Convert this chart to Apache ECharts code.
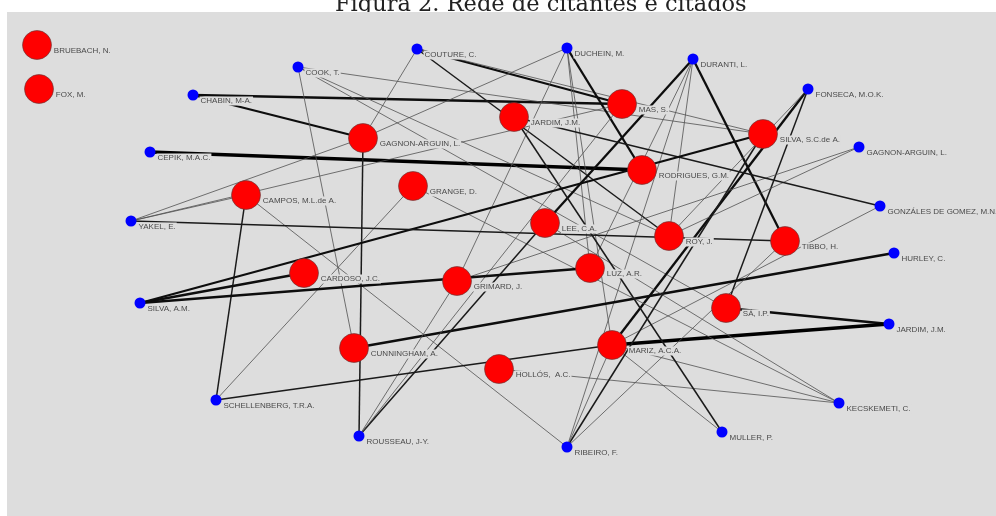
<!DOCTYPE html>
<html>
<head>
<meta charset="utf-8">
<script src="https://cdn.jsdelivr.net/npm/echarts@6/dist/echarts.min.js"></script>
<style>html,body{margin:0;padding:0;background:#fff}#c{width:996px;height:516px}</style>
</head>
<body>
<div id="c"></div>
<script>
// Node labels (authors)
const nodeNames = [
  "BRUEBACH, N.", "FOX, M.", "GAGNON-ARGUIN, L.", "JARDIM, J.M.", "MAS, S.",
  "SILVA, S.C.de A.", "RODRIGUES, G.M.", "CAMPOS, M.L.de A.", "GRANGE, D.", "LEE, C.A.",
  "ROY, J.", "TIBBO, H.", "CARDOSO, J.C.", "GRIMARD, J.", "LUZ, A.R.",
  "SÁ, I.P.", "CUNNINGHAM, A.", "MARIZ, A.C.A.", "HOLLÓS,  A.C.",
  "COUTURE, C.", "DUCHEIN, M.", "DURANTI, L.", "COOK, T.", "CHABIN, M-A.",
  "FONSECA, M.O.K.", "CEPIK, M.A.C.", "GAGNON-ARGUIN, L.", "GONZÁLES DE GOMEZ, M.N.", "YAKEL, E.",
  "HURLEY, C.", "SILVA, A.M.", "JARDIM, J.M.", "SCHELLENBERG, T.R.A.", "KECSKEMETI, C.",
  "ROUSSEAU, J-Y.", "MULLER, P.", "RIBEIRO, F."
];
// node group: 1 = citante (red), 0 = citado (blue)
const nodeGroup = [
  1,1,1,1,1,1,1,1,1,1,1,1,1,1,1,1,1,1,1,
  0,0,0,0,0,0,0,0,0,0,0,0,0,0,0,0,0,0
];
// layout coordinates (network canvas units)
const nodeX = [30,32,356,507,615,756,635,239,406,538,662,778,297,450,583,719,347,605,492,
               410,560,686,291,186,801,143,852,873,124,887,133,882,209,832,352,715,560];
const nodeY = [33,77,126,105,92,122,158,183,174,211,224,229,261,269,256,296,336,333,357,
               37,36,47,55,83,77,140,135,194,209,241,291,312,388,391,424,420,435];
// links: source index, target index, tie strength
const linkSource = [23,23,25,19,19,19,19,22,22,22,22,20,20,20,20,20,21,21,21,21,21,24,24,24,26,26,27,27,29,31,31,33,33,33,33,35,35,36,36,36,36,34,34,34,34,32,32,32,30,30,30,28,28,28,28];
const linkTarget = [2,4,6,2,10,4,5,5,10,15,16,2,13,6,17,14,9,11,10,36,14,17,10,15,13,10,17,3,16,15,17,17,18,8,9,3,17,5,7,17,11,2,9,13,4,7,8,17,12,14,5,2,7,4,11];
const linkWeight = [3,3,4,1,2,3,1,1,1,1,1,1,1,3,1,1,3,3,1,1,1,3,1,2,1,1,1,2,3,3,4,1,1,1,1,2,1,2,1,1,1,2,2,1,1,2,1,2,3,3,3,1,1,1,2];

const titleText = "Figura 2. Rede de citantes e citados";

const widthFor = [0, 0.8, 1.5, 2.3, 3.3];
const colorFor = ['#000', '#505050', '#1a1a1a', '#0d0d0d', '#000'];

const nodes = nodeNames.map((n, i) => ({
  id: 'n' + i,
  name: n,
  value: [nodeX[i], nodeY[i]],
  symbolSize: nodeGroup[i] ? 29 : 11,
  itemStyle: nodeGroup[i]
    ? { color: '#ff0000', borderColor: '#5a3a3a', borderWidth: 0.6 }
    : { color: '#0000ff', borderWidth: 0 }
}));
const links = linkSource.map((s, i) => ({
  source: s,
  target: linkTarget[i],
  lineStyle: { width: widthFor[linkWeight[i]], color: colorFor[linkWeight[i]], opacity: 1, curveness: 0 }
}));

const chart = echarts.init(document.getElementById('c'), null, { renderer: 'canvas' });
chart.setOption({
  animation: false,
  backgroundColor: '#ffffff',
  title: {
    text: titleText,
    left: 335,
    top: -6,
    padding: 0,
    z: 0,
    textStyle: { fontFamily: 'DejaVu Serif', fontSize: 22.5, fontWeight: 'normal', color: '#222' }
  },
  grid: { left: 7, top: 12, right: 0, bottom: 0, show: true, backgroundColor: '#dddddd', borderWidth: 0, z: 1 },
  xAxis: { type: 'value', min: 0, max: 989, show: false },
  yAxis: { type: 'value', min: 0, max: 504, inverse: true, show: false },
  series: [{
    type: 'graph',
    coordinateSystem: 'cartesian2d',
    layout: 'none',
    z: 2,
    silent: true,
    emphasis: { disabled: true },
    data: nodes,
    links: links,
    edgeSymbol: ['none', 'none'],
    label: {
      show: true,
      position: 'right',
      distance: 1,
      offset: [0, 6],
      formatter: '{b}',
      fontFamily: 'Liberation Sans, Arial, sans-serif',
      fontSize: 8,
      color: '#4a4a4a',
      backgroundColor: '#dddddd',
      padding: [0, 1],
      lineHeight: 9
    },
    lineStyle: { opacity: 1 }
  }]
});
</script>
</body>
</html>
